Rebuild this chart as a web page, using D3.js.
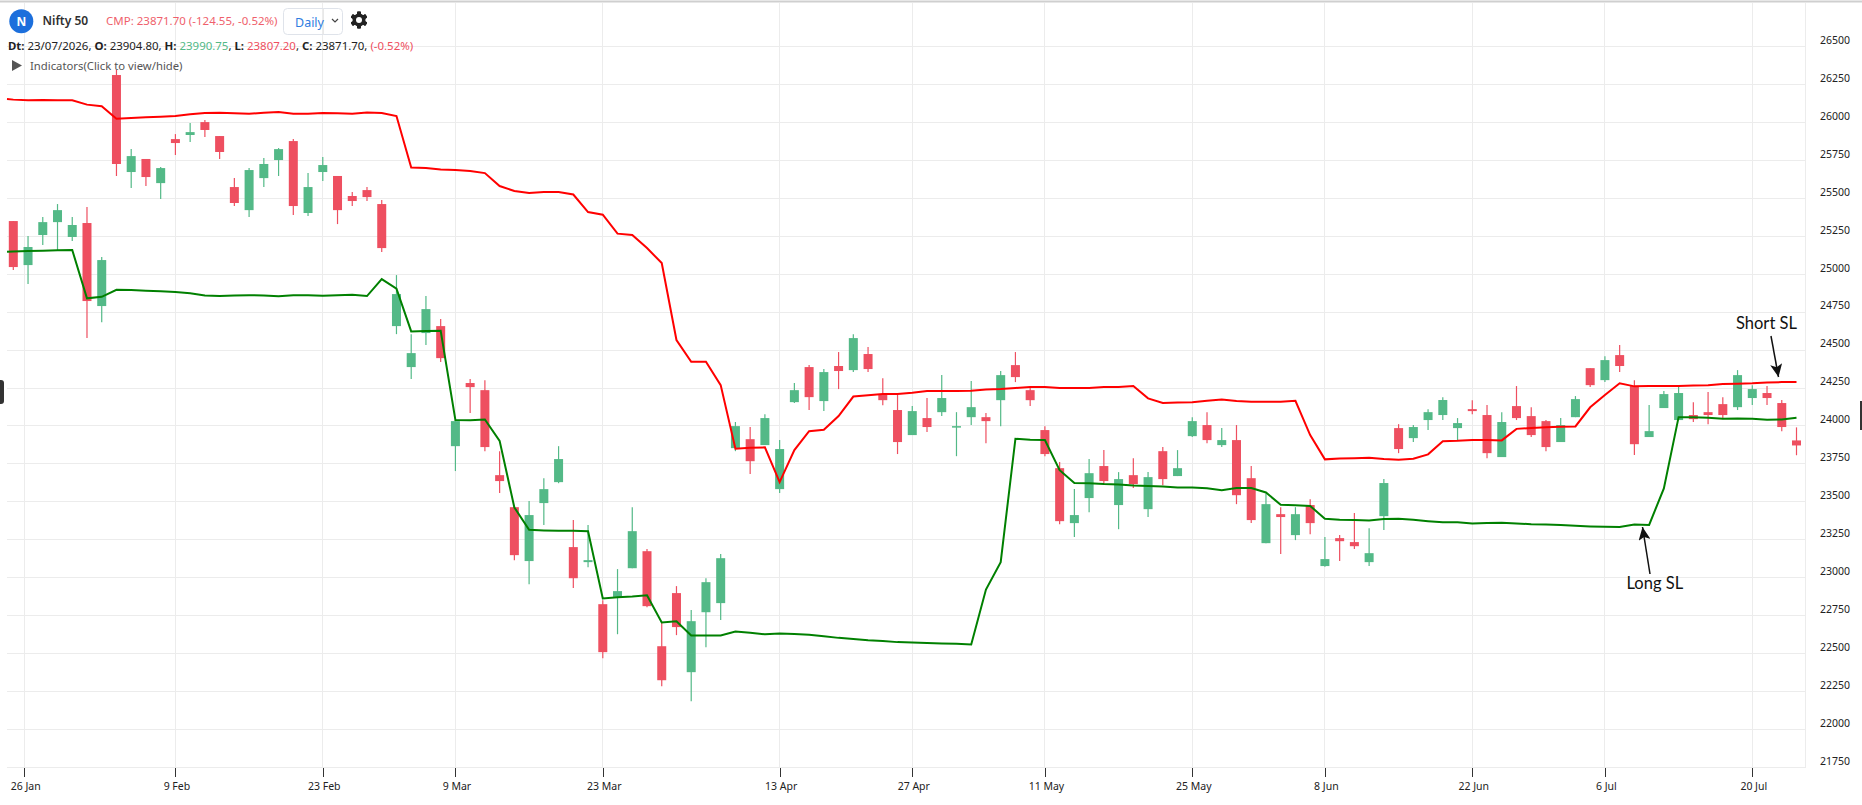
<!DOCTYPE html>
<html>
<head>
<meta charset="utf-8">
<style>
  html, body { margin: 0; padding: 0; background: #fff; overflow: hidden; }
  text { font-family: "Noto Sans", sans-serif; }
  .grid line { stroke: #ececec; stroke-width: 1; shape-rendering: crispEdges; }
  .axis text { fill: #222; font-size: 10.5px; }
  .axis .domain { display: none; }
  .note { font-family: Lato, sans-serif; font-size: 16.5px; fill: #111; }
</style>
</head>
<body>
<div id="chart"></div>
<script src="https://cdn.jsdelivr.net/npm/d3@7"></script>
<script>
let opens = [
  25350,25060,25258,25343,25245,25337,24790,26312,25673,25759,
  25600,25890,25917,26002,25910,25574,25422,25633,25752,25877,
  25403,25673,25647,25515,25554,25462,24658,24388,24612,24658,
  23867,24283,24236,23676,23465,23110,23492,23630,23202,23103,
  22826,22874,23063,23175,22549,22899,22378,22773,22833,23854,
  23913,23874,23584,24157,24388,24164,24395,24368,24474,24210,
  24105,23940,24052,24091,23993,24058,24058,24170,24401,24236,
  23973,23722,23360,23525,23736,23479,23676,23452,23834,23670,
  23933,24006,23874,23907,23656,23228,23419,23281,23479,23077,
  23261,23235,23103,23406,23986,23920,24039,24072,23986,24111,
  24072,23795,24131,24065,24032,23894,24058,24381,24302,24467,
  24263,23927,24118,24039,24072,24091,24144,24124,24184,24217,
  24151,23904.8]
let highs = [
  25350,25251,25376,25462,25376,25442,25113,26345,25824,25759,
  25706,25923,25996,26016,25910,25633,25699,25765,25831,25890,
  25666,25772,25647,25541,25574,25489,24994,24605,24856,24704,
  24039,24309,24302,23834,23465,23505,23656,23867,23380,23347,
  22852,23057,23465,23189,22705,22945,22787,22997,23156,24026,
  23993,24078,23907,24283,24401,24375,24487,24605,24520,24315,
  24210,24131,24184,24335,24091,24296,24085,24362,24487,24256,
  23999,23762,23584,23782,23841,23696,23788,23696,23861,23841,
  24058,24091,23986,24006,23736,23555,23465,23465,23518,23268,
  23281,23426,23327,23650,24012,24006,24111,24190,24052,24170,
  24138,24091,24263,24124,24039,24052,24197,24381,24460,24533,
  24302,24138,24230,24263,24157,24223,24190,24368,24269,24263,
  24171,23990.75]
let lows = [
  25027,24935,25192,25159,25218,24579,24684,25647,25567,25581,
  25495,25785,25871,25904,25759,25449,25376,25574,25647,25390,
  25383,25614,25330,25449,25482,25146,24605,24309,24533,24421,
  23703,24085,23834,23558,23116,22958,23347,23623,22932,23070,
  22470,22628,23063,22806,22286,22622,22187,22543,22721,23834,
  23683,23874,23558,24151,24105,24098,24243,24355,24355,24137,
  23815,23940,23960,24065,23801,24006,23887,23999,24289,24131,
  23801,23353,23268,23432,23617,23320,23591,23400,23610,23670,
  23927,23887,23861,23485,23360,23228,23156,23248,23287,23072,
  23110,23189,23077,23314,23821,23894,23973,24039,23907,24078,
  23788,23795,24039,23927,23834,23894,24058,24256,24289,24355,
  23808,23927,24118,24039,24026,24012,24045,24105,24138,24138,
  23966,23807.2]
let closes = [
  25047,25179,25343,25422,25324,24823,25093,25726,25778,25640,
  25699,25864,25936,25950,25805,25469,25686,25726,25824,25449,
  25574,25719,25422,25482,25508,25172,24869,24480,24770,24447,
  24032,24256,23861,23637,23149,23413,23584,23782,22997,23116,
  22510,22912,23307,22813,22325,22675,22714,22971,23129,23999,
  23768,24052,23848,24236,24190,24355,24362,24579,24375,24170,
  23894,24098,23993,24184,23999,24124,24032,24335,24322,24170,
  23815,23373,23413,23689,23637,23650,23617,23663,23650,23722,
  24032,23907,23907,23544,23380,23485,23400,23419,23360,23123,
  23241,23208,23162,23624,23848,23993,24091,24171,24019,24098,
  23821,24026,24052,23940,23861,24006,24177,24269,24434,24395,
  23880,23966,24210,24217,24045,24072,24072,24335,24243,24184,
  23993,23871.7]

// both stop-loss lines begin one session before the first visible candle
let shortSL = [
  26154,26150,26146,26148,26146,26146,26117,26106,26024,26029,
  26034,26038,26042,26053,26062,26064,26060,26057,26064,26069,
  26057,26057,26062,26060,26057,26065,26062,26042,25703,25699,
  25690,25686,25680,25666,25581,25548,25535,25541,25541,25525,
  25409,25392,25267,25258,25172,25073,24566,24423,24423,24269,
  23850,23856,23859,23630,23841,23966,23975,24065,24194,24202,
  24210,24211,24219,24230,24230,24230,24232,24241,24243,24250,
  24256,24256,24250,24250,24250,24256,24256,24263,24182,24151,
  24155,24157,24166,24175,24164,24159,24159,24159,24166,23940,
  23780,23786,23788,23790,23782,23777,23784,23813,23900,23902,
  23907,23907,23905,23981,23986,23991,23995,23997,24123,24204,
  24281,24261,24263,24263,24263,24267,24269,24276,24278,24281,
  24287,24289,24289]
let longSL = [
  25148,25150,25152,25154,25157,25159,24841,24851,24897,24895,
  24891,24887,24882,24874,24860,24856,24860,24862,24860,24854,
  24862,24862,24858,24862,24864,24856,24968,24904,24623,24625,
  24627,24039,24037,24043,23902,23463,23316,23312,23309,23309,
  23307,22864,22872,22877,22885,22705,22714,22620,22620,22620,
  22646,22637,22628,22633,22630,22624,22615,22604,22597,22589,
  22584,22576,22574,22571,22567,22565,22561,22922,23103,23916,
  23909,23907,23709,23624,23622,23617,23615,23608,23604,23602,
  23595,23595,23589,23577,23591,23591,23562,23481,23477,23473,
  23389,23382,23380,23378,23387,23389,23382,23373,23365,23365,
  23357,23360,23362,23358,23353,23351,23347,23342,23338,23336,
  23334,23351,23348,23589,24058,24058,24054,24047,24050,24047,
  24041,24043,24054]

let priceTicks = [21750,22000,22250,22500,22750,23000,23250,23500,23750,24000,24250,24500,24750,25000,25250,25500,25750,26000,26250,26500]
let dateLabels = ['26 Jan','9 Feb','23 Feb','9 Mar','23 Mar','13 Apr','27 Apr','11 May','25 May','8 Jun','22 Jun','6 Jul','20 Jul']
// 26 Jan was a holiday so its tick falls between two sessions
let dateSessions = [0.74,11,21,30,40,52,61,70,80,89,99,108,118]

let width = 1862
let height = 805
let plotLeft = 7
let plotRight = 1805.5
let plotBottom = 767.5

let upColor = '#53b987'
let downColor = '#ee4f60'

let svg = d3.select('#chart')
  .append('svg')
  .attr('width', width)
  .attr('height', height)
  .style('display', 'block')

let x = d3.scaleLinear().domain([0, opens.length - 1]).range([13.3, 1796.5])
let y = d3.scaleLinear().domain([21750, 26500]).range([plotBottom, 46.5])

// page border on top
svg.append('line')
  .attr('x1', 0).attr('x2', width)
  .attr('y1', 1.5).attr('y2', 1.5)
  .attr('stroke', '#cfcfcf').attr('stroke-width', 2)

let grid = svg.append('g').attr('class', 'grid')
grid.selectAll('.h')
  .data(priceTicks)
  .join('line')
  .attr('class', 'h')
  .attr('x1', plotLeft).attr('x2', plotRight)
  .attr('y1', d => y(d)).attr('y2', d => y(d))
grid.selectAll('.v')
  .data(dateSessions)
  .join('line')
  .attr('class', 'v')
  .attr('x1', d => x(d)).attr('x2', d => x(d))
  .attr('y1', 3).attr('y2', plotBottom)
grid.append('line')
  .attr('x1', plotRight).attr('x2', plotRight)
  .attr('y1', 3).attr('y2', plotBottom)

// axes
let yAxis = d3.axisRight(y).tickValues(priceTicks).tickSize(0).tickPadding(14.5).tickFormat(d3.format('d'))
svg.append('g')
  .attr('class', 'axis')
  .attr('transform', `translate(${plotRight},0)`)
  .call(yAxis)
  .selectAll('text')
  .attr('dy', '-0.3em')

let xAxis = d3.axisBottom(x)
  .tickValues(dateSessions)
  .tickSize(9)
  .tickPadding(6)
  .tickFormat((d, i) => dateLabels[i])
let xAxisG = svg.append('g')
  .attr('class', 'axis')
  .attr('transform', `translate(0,${plotBottom})`)
  .call(xAxis)
xAxisG.selectAll('line').attr('stroke', '#333').attr('shape-rendering', 'crispEdges')
xAxisG.selectAll('text').attr('dx', 1)

// candles
let candles = svg.append('g')
  .selectAll('g')
  .data(d3.range(opens.length))
  .join('g')
  .attr('fill', i => closes[i] >= opens[i] ? upColor : downColor)
  .attr('stroke', i => closes[i] >= opens[i] ? upColor : downColor)

candles.append('line')
  .attr('x1', i => x(i)).attr('x2', i => x(i))
  .attr('y1', i => y(highs[i])).attr('y2', i => y(lows[i]))
  .attr('stroke-width', 1.2)

candles.append('rect')
  .attr('x', i => x(i) - 4.5)
  .attr('width', 9)
  .attr('y', i => y(Math.max(opens[i], closes[i])))
  .attr('height', i => Math.max(1.5, Math.abs(y(opens[i]) - y(closes[i]))))
  .attr('stroke', 'none')

// stop-loss lines
let slLine = d3.line()
  .x((d, i) => Math.max(plotLeft, x(i - 1)))
  .y(d => y(d))

svg.append('path')
  .datum(shortSL)
  .attr('d', slLine)
  .attr('fill', 'none')
  .attr('stroke', '#ff0000')
  .attr('stroke-width', 2)

svg.append('path')
  .datum(longSL)
  .attr('d', slLine)
  .attr('fill', 'none')
  .attr('stroke', '#008000')
  .attr('stroke-width', 2)

// pasted annotations
svg.append('defs').append('marker')
  .attr('id', 'head')
  .attr('markerUnits', 'userSpaceOnUse')
  .attr('markerWidth', 14).attr('markerHeight', 12)
  .attr('refX', 13).attr('refY', 6)
  .attr('orient', 'auto')
  .append('path')
  .attr('d', 'M0,0 L13,6 L0,12 L3,6 Z')
  .attr('fill', '#111')

svg.append('line')
  .attr('x1', 1771).attr('y1', 336).attr('x2', 1778.5).attr('y2', 377)
  .attr('stroke', '#111').attr('stroke-width', 1.5)
  .attr('marker-end', 'url(#head)')
svg.append('line')
  .attr('x1', 1650).attr('y1', 574).attr('x2', 1642.5).attr('y2', 527)
  .attr('stroke', '#111').attr('stroke-width', 1.5)
  .attr('marker-end', 'url(#head)')

svg.append('text').attr('class', 'note').attr('x', 1736).attr('y', 329).text('Short SL')
svg.append('text').attr('class', 'note').attr('x', 1626.5).attr('y', 589).text('Long SL')

// header
let header = svg.append('g')
header.append('circle').attr('cx', 21.3).attr('cy', 21.3).attr('r', 12).attr('fill', '#1c6fdc')
header.append('text')
  .attr('x', 21.3).attr('y', 25.6)
  .attr('text-anchor', 'middle')
  .attr('fill', '#fff')
  .attr('font-size', 12)
  .attr('font-weight', 700)
  .text('N')
header.append('text')
  .attr('x', 42.5).attr('y', 24.5)
  .attr('fill', '#2f2f2f')
  .attr('font-size', 12)
  .attr('font-weight', 600)
  .text('Nifty 50')
header.append('text')
  .attr('x', 106).attr('y', 24.5)
  .attr('fill', '#ef5f6c')
  .attr('font-size', 11.5)
  .text('CMP: 23871.70 (-124.55, -0.52%)')

header.append('rect')
  .attr('x', 283.5).attr('y', 8.5)
  .attr('width', 59).attr('height', 26)
  .attr('rx', 4)
  .attr('fill', 'none')
  .attr('stroke', '#dfe3ea')
header.append('line')
  .attr('x1', 323.5).attr('x2', 323.5)
  .attr('y1', 8.5).attr('y2', 34.5)
  .attr('stroke', '#e8e8e8')
header.append('text')
  .attr('x', 295).attr('y', 27)
  .attr('fill', '#2f7de1')
  .attr('font-size', 12.5)
  .text('Daily')
header.append('path')
  .attr('d', 'M332,19 L335,22 L338,19')
  .attr('fill', 'none')
  .attr('stroke', '#444')
  .attr('stroke-width', 1.2)

// settings gear
let gear = header.append('g').attr('transform', 'translate(359,20)')
gear.selectAll('rect')
  .data(d3.range(6))
  .join('rect')
  .attr('x', -2).attr('y', -8.5)
  .attr('width', 4).attr('height', 17)
  .attr('rx', 1)
  .attr('fill', '#222')
  .attr('transform', d => `rotate(${d * 60})`)
gear.append('circle').attr('r', 6.5).attr('fill', '#222')
gear.append('circle').attr('r', 3).attr('fill', '#fff')

let ohlc = header.append('text')
  .attr('x', 8).attr('y', 50)
  .attr('font-size', 11.45)
  .attr('fill', '#222')
let ohlcParts = [
  ['Dt: ', 700, '#222'], ['23/07/2026, ', 400, '#222'],
  ['O: ', 700, '#222'], ['23904.80, ', 400, '#222'],
  ['H: ', 700, '#222'], ['23990.75', 400, upColor], [', ', 400, '#222'],
  ['L: ', 700, '#222'], ['23807.20', 400, downColor], [', ', 400, '#222'],
  ['C: ', 700, '#222'], ['23871.70, ', 400, '#222'],
  ['(-0.52%)', 400, downColor]
]
ohlc.selectAll('tspan')
  .data(ohlcParts)
  .join('tspan')
  .attr('font-weight', d => d[1])
  .attr('fill', d => d[2])
  .attr('xml:space', 'preserve')
  .text(d => d[0])

header.append('path').attr('d', 'M12,60 L22,65.5 L12,71 Z').attr('fill', '#555')
header.append('text')
  .attr('x', 30).attr('y', 69.5)
  .attr('font-size', 11.3)
  .attr('fill', '#555')
  .text('Indicators(Click to view/hide)')

// side handles of the page
svg.append('rect').attr('x', -3).attr('y', 380).attr('width', 7).attr('height', 24).attr('rx', 3).attr('fill', '#333')
svg.append('rect').attr('x', 1860).attr('y', 401).attr('width', 2).attr('height', 29).attr('fill', '#333')
</script>
</body>
</html>
